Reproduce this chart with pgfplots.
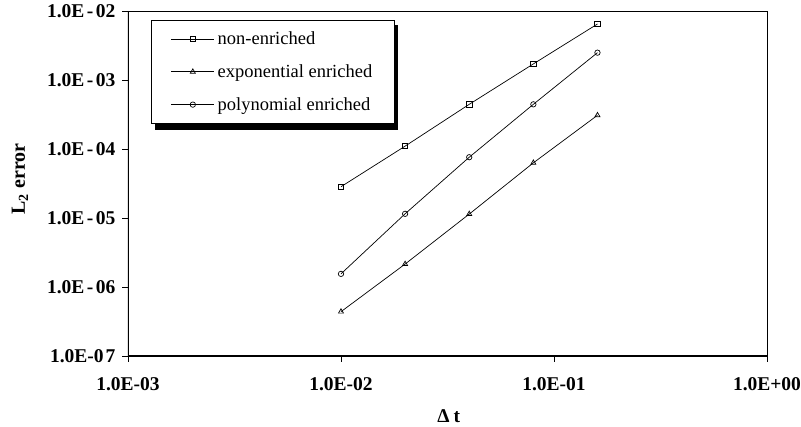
\documentclass[border=0pt]{standalone}
\usepackage{fontspec}
\setmainfont{Liberation Serif}
\usepackage{pgfplots}
\pgfplotsset{compat=1.18}

% Convergence data: L2 error versus time step
\pgfplotstableread{
dt      err
0.01    2.84e-5
0.02    1.10e-4
0.04    4.44e-4
0.08    1.71e-3
0.16    6.48e-3
}\nonenriched
\pgfplotstableread{
dt      err
0.01    4.39e-7
0.02    2.15e-6
0.04    1.14e-5
0.08    6.30e-5
0.16    3.08e-4
}\expenriched
\pgfplotstableread{
dt      err
0.01    1.55e-6
0.02    1.15e-5
0.04    7.60e-5
0.08    4.44e-4
0.16    2.49e-3
}\polyenriched

\newcommand{\ysep}{\hspace{2.5pt}-\hspace{2.5pt}}

\begin{document}
\begin{tikzpicture}[x=1pt,y=1pt]
\useasboundingbox (0,0) rectangle (801,427);
\begin{axis}[
  at={(128pt,71pt)}, anchor=south west,
  scale only axis, width=639pt, height=345pt,
  xmode=log, ymode=log,
  xmin=1e-3, xmax=1, ymin=1e-7, ymax=1e-2,
  xminorticks=false, yminorticks=false,
  xtick={1e-3,1e-2,1e-1,1},
  xticklabels={1.0E-03,1.0E-02,1.0E-01,1.0E+00},
  ytick={1e-7,1e-6,1e-5,1e-4,1e-3,1e-2},
  yticklabels={1.0E-0\hspace{2pt}7,{1.0E\ysep06},{1.0E\ysep05},{1.0E\ysep04},{1.0E\ysep03},{1.0E\ysep02}},
  tick align=outside, xtick pos=lower, ytick pos=left,
  major tick length=6pt,
  tick style={black, line width=0.8pt},
  axis line style={line width=0.8pt},
  ticklabel style={font=\fontsize{19.5}{21}\selectfont\bfseries},
  xticklabel style={yshift=-12pt},
  yticklabel style={xshift=-3pt},
  every axis y label/.style={at={(rel axis cs:0,0.513)}, xshift=-108pt, anchor=center, rotate=90},
  every axis x label/.style={at={(rel axis cs:0.502,0)}, yshift=-60pt, anchor=center},
  ylabel={\fontsize{20}{22}\selectfont\bfseries L\textsubscript{2} error},
  xlabel={\fontsize{19.5}{22}\selectfont\bfseries Δ\hspace{4pt}t},
  legend cell align=left,
  legend image code/.code={%
    \draw[mark repeat=2,mark phase=2] plot coordinates {(0pt,0pt) (21.5pt,0pt) (43pt,0pt)};},
  legend style={
    at={(rel axis cs:0.0355,0.974)}, anchor=north west,
    draw=black, line width=0.6pt, fill=white,
    font=\fontsize{18.5}{22}\selectfont,
    inner xsep=20pt, inner ysep=9.5pt,
    row sep=14.5pt,
    nodes={inner sep=2pt},
  },
]
% solid shadow behind the legend box
\fill[black] (rel axis cs:0.0423,0.655) rectangle (rel axis cs:0.4233,0.959);
\addplot[black, line width=0.7pt, mark=square, mark size=2.7pt, mark options={solid, fill=white}]
  table[x=dt,y=err] {\nonenriched};
\addlegendentry{\hspace{1pt}non-enriched}
\addplot[black, line width=0.7pt, mark=triangle, mark size=2.9pt, mark options={solid, fill=white}]
  table[x=dt,y=err] {\expenriched};
\addlegendentry{\hspace{1pt}exponential enriched}
\addplot[black, line width=0.7pt, mark=o, mark size=2.7pt, mark options={solid, fill=white}]
  table[x=dt,y=err] {\polyenriched};
\addlegendentry{\hspace{1pt}polynomial enriched}
% heavier left and bottom spines
\draw[line width=1.6pt] (rel axis cs:0,1) -- (rel axis cs:0,0) -- (rel axis cs:1,0);
\end{axis}
\end{tikzpicture}
\end{document}
